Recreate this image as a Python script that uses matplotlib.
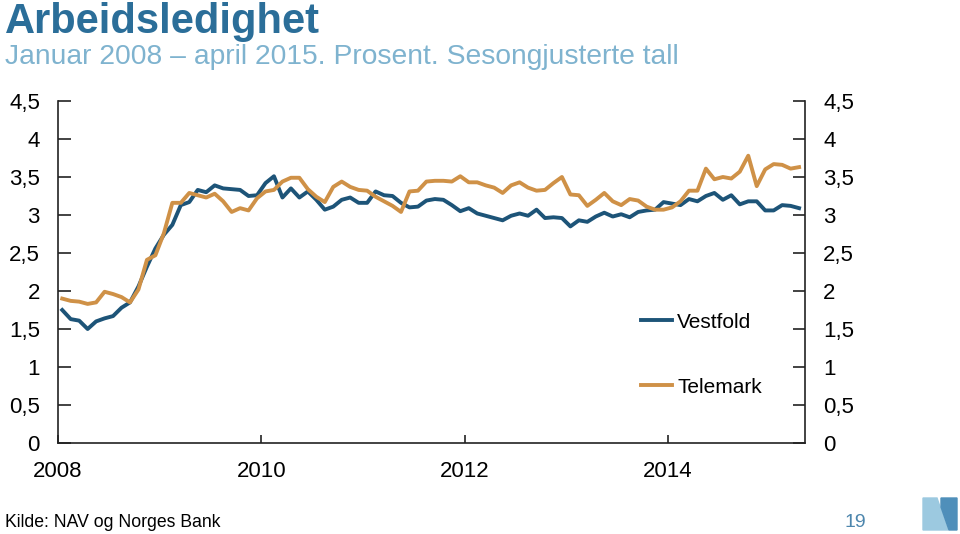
import numpy as np
import matplotlib
matplotlib.use("Agg")
import matplotlib.pyplot as plt
from matplotlib.patches import Polygon
from matplotlib.ticker import FuncFormatter

plt.rcParams['font.family'] = ['Liberation Sans', 'DejaVu Sans']

# monthly values, Jan 2008 - Apr 2015 (percent, seasonally adjusted)
vestfold = [
    1.75, 1.63, 1.61, 1.50, 1.60, 1.64, 1.67, 1.78, 1.85, 2.06, 2.32, 2.56,
    2.74, 2.87, 3.13, 3.17, 3.33, 3.30, 3.39, 3.35, 3.34, 3.33, 3.25, 3.26,
    3.42, 3.51, 3.23, 3.35, 3.23, 3.31, 3.20, 3.07, 3.11, 3.20, 3.23, 3.16,
    3.16, 3.31, 3.26, 3.25, 3.16, 3.10, 3.11, 3.19, 3.21, 3.20, 3.13, 3.05,
    3.09, 3.02, 2.99, 2.96, 2.93, 2.99, 3.02, 2.99, 3.07, 2.96, 2.97, 2.96,
    2.85, 2.93, 2.91, 2.98, 3.03, 2.98, 3.01, 2.97, 3.04, 3.06, 3.07, 3.17,
    3.15, 3.13, 3.21, 3.18, 3.25, 3.29, 3.20, 3.26, 3.14, 3.18, 3.18, 3.06,
    3.06, 3.13, 3.12, 3.09,
]
telemark = [
    1.90, 1.87, 1.86, 1.83, 1.85, 1.99, 1.96, 1.92, 1.85, 2.02, 2.41, 2.47,
    2.76, 3.16, 3.16, 3.29, 3.26, 3.23, 3.28, 3.18, 3.04, 3.09, 3.06, 3.22,
    3.31, 3.33, 3.44, 3.49, 3.49, 3.34, 3.24, 3.17, 3.37, 3.44, 3.37, 3.33,
    3.32, 3.24, 3.18, 3.12, 3.04, 3.31, 3.32, 3.44, 3.45, 3.45, 3.44, 3.51,
    3.43, 3.43, 3.39, 3.36, 3.29, 3.39, 3.43, 3.36, 3.32, 3.33, 3.42, 3.50,
    3.27, 3.26, 3.12, 3.20, 3.29, 3.18, 3.13, 3.21, 3.19, 3.11, 3.07, 3.07,
    3.10, 3.18, 3.32, 3.32, 3.61, 3.47, 3.50, 3.48, 3.57, 3.78, 3.38, 3.60,
    3.67, 3.66, 3.61, 3.63,
]
year_labels = ["2008", "2010", "2012", "2014"]
series_names = ["Vestfold", "Telemark"]

blue = "#1d5478"
orange = "#cf9147"

fig = plt.figure(figsize=(9.6, 5.34), dpi=100)
ax = fig.add_axes([58 / 960, 1 - 443 / 534, 747 / 960, 342 / 534])

months = np.arange(len(vestfold))
ax.plot(months, vestfold, color=blue, lw=2.8, label=series_names[0])
ax.plot(months, telemark, color=orange, lw=2.8, label=series_names[1])

ax.set_xlim(-0.5, 87.7)
ax.set_ylim(0, 4.5)
ax.set_yticks(np.arange(0, 4.51, 0.5))
ax.yaxis.set_major_formatter(FuncFormatter(lambda v, p: ("%g" % v).replace(".", ",")))
ax.set_xticks([-0.5 + 24 * i for i in range(len(year_labels))])
ax.set_xticklabels(year_labels)

ax.spines["top"].set_visible(False)
for s in ["left", "right", "bottom"]:
    ax.spines[s].set_linewidth(1.2)
    ax.spines[s].set_color("#222222")

ax.tick_params(axis="y", direction="in", length=9, width=1.2, labelsize=16,
               left=True, right=True, labelleft=True, labelright=True, pad=13, color="#222222")
ax.tick_params(axis="x", direction="in", length=6, width=1.2, labelsize=16, pad=13, color="#222222")

ax.legend(loc="upper left", bbox_to_anchor=(0.78, 0.381), frameon=False,
          fontsize=15, handlelength=1.5, handletextpad=0.25, labelspacing=2.2,
          borderpad=0, borderaxespad=0)

fig.text(0.005, 1 - 33 / 534, "Arbeidsledighet", fontsize=30, fontweight="bold",
         color="#2b6e99", va="baseline", ha="left")
fig.text(0.005, 1 - 64 / 534, "Januar 2008 \u2013 april 2015. Prosent. Sesongjusterte tall",
         fontsize=20.3, color="#7fb3cf", va="baseline", ha="left")
fig.text(0.005, 0.021, "Kilde: NAV og Norges Bank", fontsize=12.7, color="black",
         va="center", ha="left")
fig.text(0.891, 0.021, "19", fontsize=14, color="#4d86ad", va="center", ha="center")

# simple N logo
def fig_xy(pts):
    return [(x / 960, 1 - y / 534) for x, y in pts]

fig.patches.append(Polygon(fig_xy([(923, 498), (937, 498), (948, 530), (923, 530)]),
                           closed=True, transform=fig.transFigure, color="#9cc9e0"))
fig.patches.append(Polygon(fig_xy([(941, 498), (957, 498), (957, 530), (949, 530), (941, 507)]),
                           closed=True, transform=fig.transFigure, color="#4f8fba"))

fig.savefig("out.png", dpi=100)
